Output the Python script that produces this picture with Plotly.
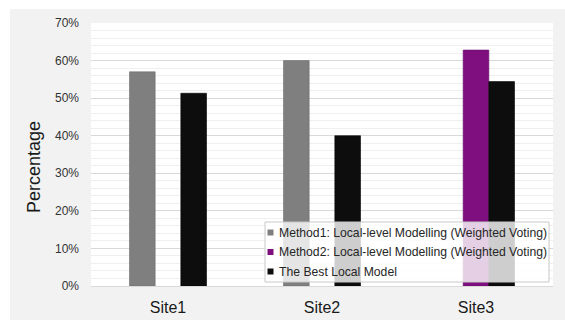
import plotly.graph_objects as go

sites = ["Site1", "Site2", "Site3"]
method1 = [57.0, 60.0, None]
method2 = [None, None, 62.8]
best_local = [51.3, 40.0, 54.4]

series_names = [
    "Method1: Local-level Modelling (Weighted Voting)",
    "Method2: Local-level Modelling (Weighted Voting)",
    "The Best Local Model",
]
series_colors = ["#7f7f7f", "#7f0f7e", "#0d0d0d"]
series_lines = ["#6f6f6f", "#6a0c69", "#000000"]

y_ticks = [0, 10, 20, 30, 40, 50, 60, 70]
y_tick_text = [f"{v}%" for v in y_ticks]
y_title = "Percentage"

# plot-area geometry in pixels (used to place the boxed legend and axis title)
W, H = 565, 320
ML, MR, MT, MB = 91, 12, 23, 34
PW, PH = W - ML - MR, H - MT - MB


def px_x(px):
    return (px - ML) / PW


def px_y(py):
    return (H - MB - py) / PH


fig = go.Figure()
for name, vals, col, lc in zip(series_names, [method1, method2, best_local], series_colors, series_lines):
    fig.add_trace(go.Bar(
        x=sites, y=vals, name=name, showlegend=False,
        marker=dict(color=col, line=dict(color=lc, width=0.6)),
    ))

shapes = [
    # white border around the grey canvas
    dict(type="rect", xref="paper", yref="paper", x0=px_x(0), x1=px_x(W),
         y0=px_y(9), y1=px_y(0), fillcolor="#ffffff", line=dict(width=0), layer="below"),
    dict(type="rect", xref="paper", yref="paper", x0=px_x(0), x1=px_x(10),
         y0=px_y(H), y1=px_y(0), fillcolor="#ffffff", line=dict(width=0), layer="below"),
    # legend box
    dict(type="rect", xref="paper", yref="paper", x0=px_x(265), x1=px_x(549),
         y0=px_y(282), y1=px_y(222), fillcolor="rgba(255,255,255,0.8)",
         line=dict(color="#c8c8c8", width=1), layer="above"),
]
annotations = [
    dict(text=y_title, xref="paper", yref="paper", x=px_x(34), y=px_y(167),
         xanchor="center", yanchor="middle", textangle=-90, showarrow=False,
         font=dict(size=18, color="#1a1a1a")),
]
row_y = [232.5, 252, 271.5]
for name, col, ry in zip(series_names, series_colors, row_y):
    shapes.append(dict(type="rect", xref="paper", yref="paper",
                       x0=px_x(267.5), x1=px_x(273.5), y0=px_y(ry + 3), y1=px_y(ry - 3),
                       fillcolor=col, line=dict(width=0), layer="above"))
    annotations.append(dict(text=name, xref="paper", yref="paper", x=px_x(277), y=px_y(ry),
                            xanchor="left", yanchor="middle", showarrow=False,
                            font=dict(size=12.2, color="#262626")))

fig.update_layout(
    width=W, height=H,
    margin=dict(l=ML, r=MR, t=MT, b=MB),
    paper_bgcolor="#f2f2f2",
    plot_bgcolor="#ffffff",
    barmode="group",
    bargap=0.5,
    bargroupgap=0,
    font=dict(family="Liberation Sans, Arial, sans-serif", color="#262626"),
    showlegend=False,
    shapes=shapes,
    annotations=annotations,
)

fig.update_yaxes(
    automargin=False,
    range=[0, 70],
    tickvals=y_ticks, ticktext=y_tick_text,
    tickfont=dict(size=12, color="#333333"),
    showgrid=True, gridcolor="#d9d9d9", gridwidth=1,
    minor=dict(dtick=2, showgrid=True, gridcolor="#efefef", gridwidth=1),
    zeroline=False,
    ticks="", ticklabelstandoff=11,
)
fig.update_xaxes(
    automargin=False,
    tickfont=dict(size=16, color="#1a1a1a"),
    showline=True, linecolor="#d9d9d9", linewidth=1,
    ticks="", ticklabelstandoff=7,
)

fig.write_html("out.html")
